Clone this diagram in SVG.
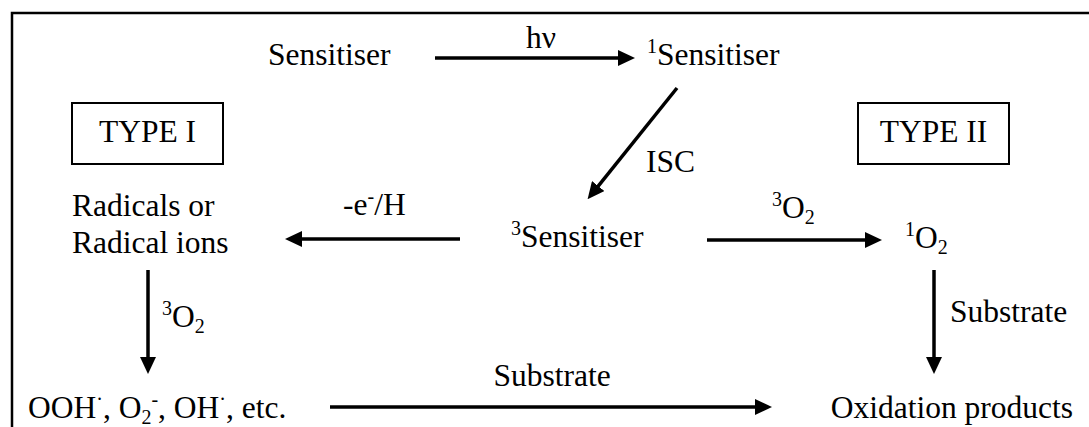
<svg xmlns="http://www.w3.org/2000/svg" width="1089" height="427" viewBox="0 0 1089 427">
<style>
text{font-family:"Liberation Serif","Times New Roman",serif;font-size:31.5px;fill:#000}
.sup{font-size:20px}
.box{fill:none;stroke:#000;stroke-width:2}
.conn line{stroke:#000;stroke-width:3.5;marker-end:url(#ah)}
.frame{fill:none;stroke:#000;stroke-width:2.5}
</style>
<defs>
<marker id="ah" viewBox="0 0 17 16" markerWidth="17" markerHeight="16" markerUnits="userSpaceOnUse" refX="1" refY="8" orient="auto">
<path d="M0,0 L17,8 L0,16 z" fill="#000"/>
</marker>
</defs>
<rect width="1089" height="427" fill="#fff"/>
<path class="frame" d="M12,427 V13 H1089"/>
<g id="sensitiser"><text x="268" y="65">Sensitiser</text></g>
<g id="singlet-sensitiser"><text x="647" y="65"><tspan class="sup" dy="-12">1</tspan><tspan dy="12">Sensitiser</tspan></text></g>
<g id="triplet-sensitiser"><text x="511" y="247"><tspan class="sup" dy="-12">3</tspan><tspan dy="12">Sensitiser</tspan></text></g>
<g id="type1"><rect class="box" x="72" y="103" width="151" height="61"/><text x="147.5" y="142" text-anchor="middle">TYPE I</text></g>
<g id="type2"><rect class="box" x="858" y="103" width="151" height="61"/><text x="933.5" y="142" text-anchor="middle">TYPE II</text></g>
<g id="radicals"><text x="72" y="216">Radicals or</text><text x="72" y="253">Radical ions</text></g>
<g id="singlet-oxygen"><text x="905" y="248"><tspan class="sup" dy="-12">1</tspan><tspan dy="12">O</tspan><tspan class="sup" dy="6">2</tspan></text></g>
<g id="ros"><text x="28" y="418">OOH<tspan class="sup" dy="-12">·</tspan><tspan dy="12">, O</tspan><tspan class="sup" dy="6">2</tspan><tspan class="sup" dy="-18">-</tspan><tspan dy="12">, OH</tspan><tspan class="sup" dy="-12">·</tspan><tspan dy="12">, etc.</tspan></text></g>
<g id="oxidation-products"><text x="1073" y="418" text-anchor="end">Oxidation products</text></g>

<g id="connectors" class="conn">
<line x1="435" y1="58" x2="619" y2="58"/>
<line x1="677" y1="88" x2="597.6" y2="186.8"/>
<line x1="460" y1="239" x2="301" y2="239"/>
<line x1="707" y1="240" x2="866" y2="240"/>
<line x1="148" y1="270" x2="148" y2="358"/>
<line x1="934" y1="270" x2="934" y2="358"/>
<line x1="330" y1="407" x2="756" y2="407"/>
</g>
<g id="labels">
<text x="526" y="48">hν</text>
<text x="646" y="172">ISC</text>
<text x="343" y="215">-e<tspan class="sup" dy="-12">-</tspan><tspan dy="12">/H</tspan></text>
<text x="772" y="218"><tspan class="sup" dy="-12">3</tspan><tspan dy="12">O</tspan><tspan class="sup" dy="6">2</tspan></text>
<text x="162" y="327"><tspan class="sup" dy="-12">3</tspan><tspan dy="12">O</tspan><tspan class="sup" dy="6">2</tspan></text>
<text x="950" y="322">Substrate</text>
<text x="552" y="386" text-anchor="middle">Substrate</text>
</g>
</svg>
